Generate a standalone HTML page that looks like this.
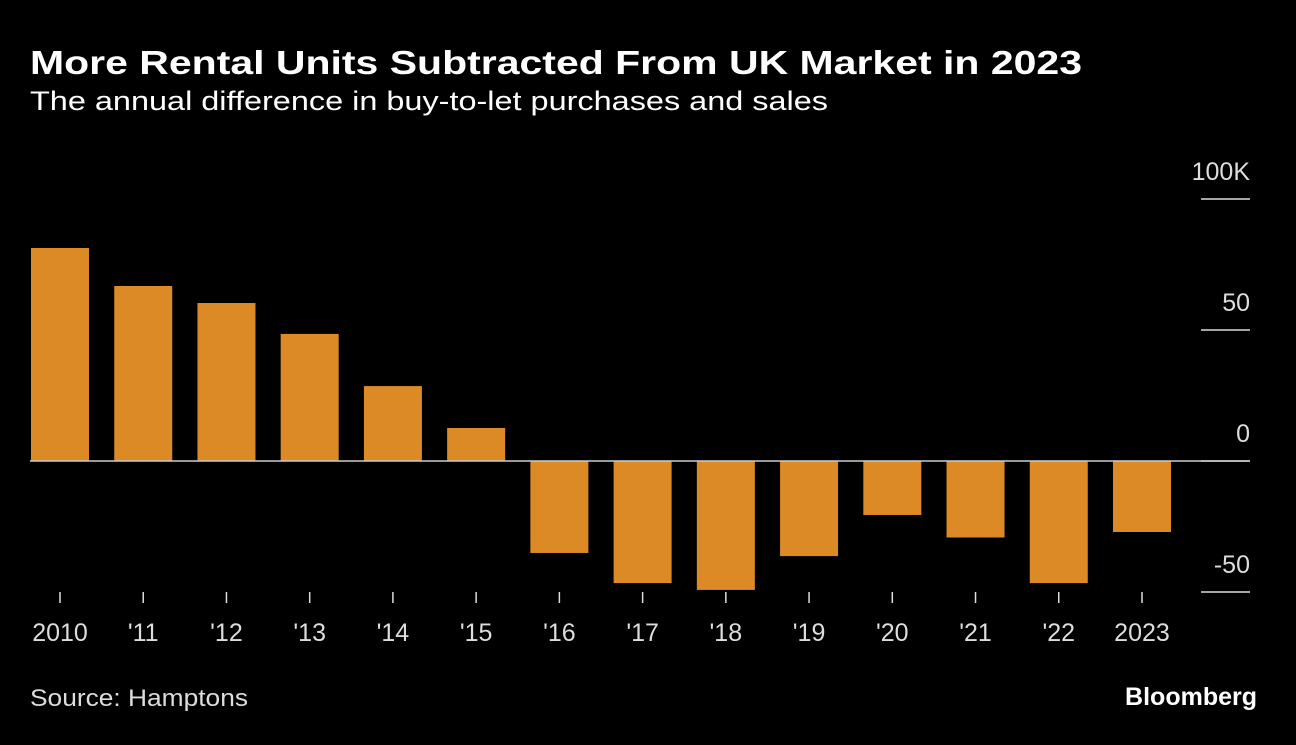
<!DOCTYPE html>
<html><head><meta charset="utf-8"><style>
body{margin:0;background:#000;width:1296px;height:740px;overflow:hidden;font-family:"Liberation Sans",sans-serif;color:#fff}
</style></head><body>
<svg width="1296" height="740">
<text x="30" y="74" font-size="33" font-weight="bold" fill="#fff" textLength="1052" lengthAdjust="spacingAndGlyphs">More Rental Units Subtracted From UK Market in 2023</text>
<text x="30" y="110" font-size="27" fill="#fff" textLength="798" lengthAdjust="spacingAndGlyphs">The annual difference in buy-to-let purchases and sales</text>
<g id="plot"></g>
<text x="30" y="706" font-size="24" fill="#ddd" textLength="218" lengthAdjust="spacingAndGlyphs">Source: Hamptons</text>
<text x="1257" y="705" font-size="25" font-weight="bold" fill="#fff" text-anchor="end">Bloomberg</text>
</svg>
<script>
const categories=["2010","'11","'12","'13","'14","'15","'16","'17","'18","'19","'20","'21","'22","2023"];
const values=[81.3,66.8,60.3,48.5,28.6,12.6,-35.1,-46.6,-49.2,-36.3,-20.6,-29.2,-46.6,-27.1];
const yTicks=[100,50,0,-50];
const yTickLabels=["100K","50","0","-50"];
const NS="http://www.w3.org/2000/svg";
const g=document.getElementById('plot');
function y(v){return 461-v*131/50;}
function xc(i){return 60+i*83.23;}
function mk(t,a){const e=document.createElementNS(NS,t);for(const k in a)e.setAttribute(k,a[k]);g.appendChild(e);return e;}
yTicks.forEach((v,i)=>{
  const l=mk('line',{x1:1201,x2:1250,y1:y(v),y2:y(v),stroke:'#ddd','stroke-width':1.5});
  
  
  const t=mk('text',{x:1250,y:y(v)-19,'font-size':25,fill:'#ddd','text-anchor':'end'});
  t.textContent=yTickLabels[i];
  
  
});
categories.forEach((c,i)=>{
  const v=values[i];
  const r=mk('rect',{x:xc(i)-29,y:Math.min(y(v),y(0)),width:58,height:Math.abs(y(v)-y(0)),fill:'#dc8a26'});
  
  
  const tk=mk('line',{x1:xc(i),x2:xc(i),y1:592,y2:603,stroke:'#ddd','stroke-width':1.5});
  
  
  const t=mk('text',{x:xc(i),y:641,'font-size':25,fill:'#ddd','text-anchor':'middle'});
  t.textContent=c;
  
  
});
const z=mk('line',{x1:30,x2:1250,y1:y(0),y2:y(0),stroke:'#ccc','stroke-width':1.5});


</script>
</body></html>
